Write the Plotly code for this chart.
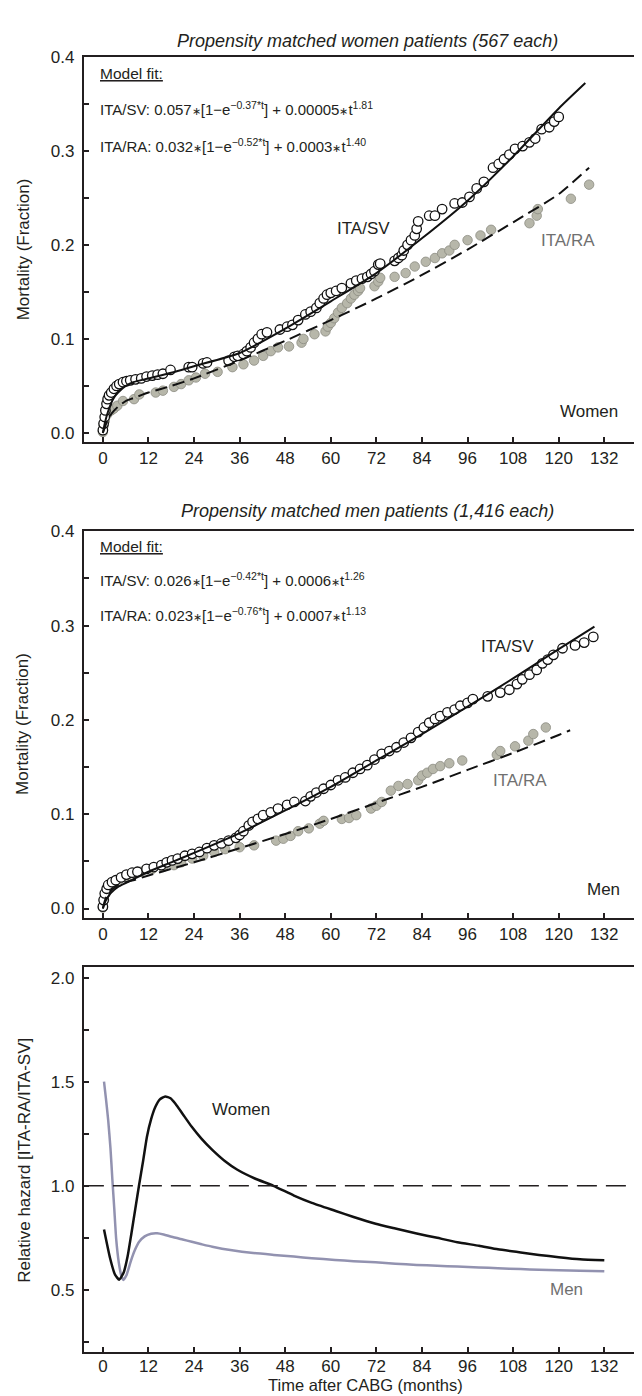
import plotly.graph_objects as go

W, H = 642, 1396

# ---------------- Panel 1: women ----------------
w_sv_t = [0, 0.19, 0.48, 0.67, 0.96, 1.25, 1.63, 2.2, 2.9, 3.6, 4.3, 5.3, 6.2, 7.2, 8.6, 10.1, 11.5, 13.0, 14.4, 15.8,
          17.8, 22.6, 23.5, 26.4, 27.4, 33.1, 34.6, 35.5, 37.0, 37.9, 38.9, 39.8, 40.8, 41.8, 43.2, 46.6, 48.5, 49.9,
          51.4, 53.3, 54.7, 56.2, 57.1, 58.1, 59.0, 60.0, 61.4, 62.9, 65.3, 66.7, 68.2, 69.6, 70.6, 71.5, 72.5, 73.0,
          76.8, 77.8, 78.7, 79.2, 80.2, 81.1, 82.1, 82.6, 83.0, 85.9, 87.4, 89.3, 92.6, 94.6, 96.5, 98.4, 100.3, 102.7,
          104.2, 105.6, 107.0, 108.5, 110.5, 112.3, 113.8, 115.5, 117.5, 118.8, 120.0]
w_sv_v = [0.003, 0.010, 0.017, 0.024, 0.031, 0.036, 0.040, 0.043, 0.047, 0.050, 0.052, 0.054, 0.055, 0.056, 0.057,
          0.058, 0.060, 0.061, 0.062, 0.063, 0.067, 0.070, 0.070, 0.074, 0.075, 0.077, 0.081, 0.082, 0.084, 0.087,
          0.091, 0.096, 0.100, 0.105, 0.107, 0.110, 0.113, 0.115, 0.120, 0.126, 0.129, 0.133, 0.138, 0.143, 0.147,
          0.149, 0.151, 0.154, 0.159, 0.162, 0.164, 0.166, 0.169, 0.172, 0.179, 0.180, 0.183, 0.186, 0.189, 0.194,
          0.200, 0.205, 0.210, 0.217, 0.225, 0.231, 0.231, 0.238, 0.244, 0.245, 0.251, 0.260, 0.267, 0.282, 0.286,
          0.291, 0.296, 0.302, 0.305, 0.309, 0.313, 0.323, 0.325, 0.331, 0.336]
w_ra_t = [0, 0.2, 0.5, 1.0, 1.4, 2.2, 2.9, 3.8, 5.3, 8.2, 9.6, 13.9, 15.8, 18.7, 20.6, 22.6, 24.5, 26.9, 30.2, 34.1,
          37.0, 39.8, 42.2, 44.2, 46.1, 49.0, 52.3, 52.8, 55.7, 58.6, 59.2, 60.0, 60.9, 61.9, 62.9, 64.3, 65.3, 66.2,
          67.2, 67.7, 71.5, 72.5, 73.0, 76.8, 79.7, 82.1, 85.0, 87.4, 89.3, 91.2, 92.6, 96.0, 99.4, 102.2, 112.3,
          114.2, 114.5, 123.2, 128.0]
w_ra_v = [0.001, 0.008, 0.013, 0.019, 0.022, 0.024, 0.026, 0.029, 0.034, 0.036, 0.041, 0.043, 0.045, 0.049, 0.052,
          0.056, 0.059, 0.063, 0.065, 0.070, 0.073, 0.077, 0.082, 0.087, 0.091, 0.092, 0.096, 0.100, 0.105, 0.108,
          0.113, 0.117, 0.122, 0.128, 0.133, 0.138, 0.143, 0.147, 0.151, 0.154, 0.156, 0.161, 0.165, 0.166, 0.170,
          0.177, 0.182, 0.186, 0.191, 0.194, 0.200, 0.205, 0.210, 0.216, 0.223, 0.231, 0.238, 0.249, 0.264]
w_fit_sv_t = [0, 0.5, 1, 2, 3, 4, 6, 8, 12, 18, 24, 36, 48, 60, 72, 84, 96, 108, 120, 127]
w_fit_sv_v = [0, 0.010, 0.018, 0.030, 0.038, 0.043, 0.050, 0.054, 0.058, 0.064, 0.071, 0.085, 0.111, 0.140, 0.170,
              0.207, 0.247, 0.294, 0.345, 0.372]
w_fit_ra_t = [0, 0.5, 1, 2, 3, 4, 6, 8, 12, 18, 24, 36, 48, 60, 72, 84, 96, 108, 120, 128]
w_fit_ra_v = [0, 0.006, 0.011, 0.019, 0.024, 0.028, 0.034, 0.037, 0.043, 0.050, 0.058, 0.077, 0.098, 0.120, 0.143,
              0.168, 0.195, 0.224, 0.254, 0.282]

# ---------------- Panel 2: men ----------------
m_sv_t = [0, 0.2, 0.5, 1.0, 1.4, 2.4, 3.4, 4.8, 6.2, 7.7, 9.1, 11.5, 13.4, 15.4, 16.8, 18.2, 19.7, 21.6, 23.5, 25.4,
          27.4, 29.3, 31.2, 33.1, 35.0, 36.0, 37.0, 38.4, 39.4, 40.8, 42.2, 44.2, 46.1, 48.5, 50.4, 53.3, 54.7, 56.2,
          58.1, 60.0, 61.9, 63.8, 65.8, 67.7, 69.6, 71.5, 73.4, 75.4, 77.3, 79.2, 81.1, 83.0, 84.5, 85.9, 87.4, 88.8,
          90.7, 92.6, 94.1, 96.0, 97.4, 101.3, 104.6, 107.0, 109.0, 110.4, 112.3, 114.2, 115.7, 117.1, 118.6, 121.0,
          124.3, 126.7, 129.1]
m_sv_v = [0.002, 0.009, 0.016, 0.021, 0.025, 0.028, 0.030, 0.033, 0.036, 0.038, 0.039, 0.042, 0.044, 0.046, 0.049,
          0.051, 0.053, 0.056, 0.058, 0.060, 0.064, 0.067, 0.069, 0.072, 0.075, 0.078, 0.082, 0.088, 0.092, 0.095,
          0.099, 0.102, 0.106, 0.110, 0.113, 0.114, 0.119, 0.123, 0.127, 0.131, 0.136, 0.139, 0.144, 0.148, 0.152,
          0.158, 0.164, 0.167, 0.171, 0.176, 0.181, 0.187, 0.192, 0.197, 0.201, 0.204, 0.208, 0.211, 0.215, 0.218,
          0.222, 0.225, 0.229, 0.232, 0.238, 0.243, 0.248, 0.253, 0.260, 0.264, 0.269, 0.276, 0.279, 0.282, 0.288]
m_ra_t = [0, 0.3, 0.7, 1.2, 1.9, 2.9, 4.3, 6.2, 8.2, 10.1, 13.0, 15.8, 18.7, 20.6, 23.5, 26.4, 29.3, 32.2, 36.0, 39.8,
          45.6, 47.5, 49.4, 51.4, 54.2, 57.1, 58.1, 62.9, 64.8, 66.7, 70.6, 72.0, 73.4, 75.8, 77.8, 80.2, 83.0, 84.0,
          85.4, 86.9, 88.8, 91.2, 94.6, 103.7, 104.6, 108.5, 112.0, 113.3, 116.6]
m_ra_v = [0.001, 0.009, 0.016, 0.021, 0.025, 0.028, 0.031, 0.033, 0.037, 0.039, 0.042, 0.044, 0.046, 0.049, 0.053,
          0.056, 0.060, 0.063, 0.065, 0.067, 0.072, 0.074, 0.077, 0.082, 0.085, 0.090, 0.093, 0.095, 0.096, 0.099,
          0.106, 0.109, 0.113, 0.125, 0.130, 0.132, 0.136, 0.141, 0.144, 0.148, 0.151, 0.154, 0.157, 0.163, 0.167,
          0.172, 0.178, 0.185, 0.192]
m_fit_sv_t = [0, 0.5, 1, 2, 3, 4, 6, 8, 12, 18, 24, 36, 48, 60, 72, 84, 96, 108, 120, 129.4]
m_fit_sv_v = [0, 0.006, 0.010, 0.016, 0.020, 0.023, 0.027, 0.031, 0.039, 0.049, 0.059, 0.080, 0.104, 0.129, 0.157,
              0.185, 0.214, 0.244, 0.275, 0.299]
m_fit_ra_t = [0, 0.5, 1, 2, 3, 4, 6, 8, 12, 18, 24, 36, 48, 60, 72, 84, 96, 108, 120, 123]
m_fit_ra_v = [0, 0.008, 0.013, 0.019, 0.022, 0.025, 0.028, 0.030, 0.035, 0.042, 0.049, 0.064, 0.079, 0.095, 0.112,
              0.129, 0.147, 0.165, 0.184, 0.189]

# ---------------- Panel 3: relative hazard ----------------
hz_w_t = [0.3, 1.9, 3.2, 4.3, 5.5, 6.5, 7.5, 8.5, 9.5, 10.6, 11.6, 12.7, 13.8, 15, 16.4, 17.8, 19.1, 21, 23.4, 26,
          28.8, 32, 35.3, 40, 44.9, 50.3, 55, 61.1, 66, 71.8, 77, 82.6, 88, 93.3, 99, 104, 110, 114.8, 120, 125.6, 132]
hz_w_v = [0.79, 0.652, 0.573, 0.549, 0.585, 0.66, 0.77, 0.885, 1.0, 1.12, 1.236, 1.32, 1.378, 1.415, 1.429, 1.42,
          1.394, 1.345, 1.283, 1.225, 1.172, 1.12, 1.078, 1.035, 1.0, 0.953, 0.918, 0.88, 0.85, 0.818, 0.795, 0.771,
          0.75, 0.729, 0.712, 0.695, 0.68, 0.668, 0.657, 0.647, 0.642]
hz_m_t = [0.3, 0.8, 1.4, 2.0, 2.5, 3.0, 3.5, 4.2, 4.9, 5.4, 6.2, 7.3, 8.4, 9.5, 11, 12.7, 14.3, 16, 18.1, 21, 23.4,
          26, 28.8, 34, 39.6, 45, 50.3, 55, 61.1, 66, 71.8, 77, 82.6, 88, 93.3, 99, 104, 110, 114.8, 120, 125.6, 132]
hz_m_v = [1.5, 1.42, 1.315, 1.18, 1.03, 0.89, 0.745, 0.63, 0.565, 0.548, 0.57, 0.635, 0.69, 0.73, 0.757, 0.77, 0.772,
          0.766, 0.755, 0.742, 0.731, 0.719, 0.707, 0.69, 0.677, 0.668, 0.66, 0.652, 0.644, 0.638, 0.633, 0.626,
          0.620, 0.616, 0.612, 0.608, 0.604, 0.600, 0.597, 0.594, 0.592, 0.589]
ref_hazard = 1.0

x_ticks = list(range(0, 133, 12))
mort_ticks = [0, 0.1, 0.2, 0.3, 0.4]
mort_labels = ["0.0", "0.1", "0.2", "0.3", "0.4"]
mort_minor = [0.05, 0.15, 0.25, 0.35]
hz_ticks = [0.5, 1.0, 1.5, 2.0]
hz_labels = ["0.5", "1.0", "1.5", "2.0"]
hz_minor = [0.25, 0.75, 1.25, 1.75]

FONT = "Liberation Sans, Arial, sans-serif"
INK = "#231f20"
GRAY_TXT = "#707070"
GRAY_FILL = "#b7b7aa"
GRAY_EDGE = "#8c8c82"
MEN_LINE = "#9292b0"
STAR = "<span style='font-size:11px'>∗</span>"

fig = go.Figure()


def add_mortality(xa, ya, sv_t, sv_v, ra_t, ra_v, fsv_t, fsv_v, fra_t, fra_v):
    fig.add_trace(go.Scatter(x=ra_t, y=ra_v, mode="markers", xaxis=xa, yaxis=ya,
                             marker=dict(size=9.5, color=GRAY_FILL, line=dict(color=GRAY_EDGE, width=0.8))))
    fig.add_trace(go.Scatter(x=sv_t, y=sv_v, mode="markers", xaxis=xa, yaxis=ya,
                             marker=dict(size=9.5, color="white", line=dict(color="#111", width=1.3))))
    fig.add_trace(go.Scatter(x=fsv_t, y=fsv_v, mode="lines", xaxis=xa, yaxis=ya,
                             line=dict(color="#111", width=2, shape="spline", smoothing=0.6)))
    fig.add_trace(go.Scatter(x=fra_t, y=fra_v, mode="lines", xaxis=xa, yaxis=ya,
                             line=dict(color="#111", width=2, dash="12px,6px", shape="spline", smoothing=0.6)))


add_mortality("x", "y", w_sv_t, w_sv_v, w_ra_t, w_ra_v, w_fit_sv_t, w_fit_sv_v, w_fit_ra_t, w_fit_ra_v)
add_mortality("x2", "y2", m_sv_t, m_sv_v, m_ra_t, m_ra_v, m_fit_sv_t, m_fit_sv_v, m_fit_ra_t, m_fit_ra_v)

fig.add_trace(go.Scatter(x=hz_m_t, y=hz_m_v, mode="lines", xaxis="x3", yaxis="y3",
                         line=dict(color=MEN_LINE, width=2.5, shape="spline", smoothing=0.5)))
fig.add_trace(go.Scatter(x=hz_w_t, y=hz_w_v, mode="lines", xaxis="x3", yaxis="y3",
                         line=dict(color="#111", width=2.5, shape="spline", smoothing=0.5)))


def fx(x):
    return x / W


def fy(y):
    return 1 - y / H


XD = [76 / W, 641 / W]
axis_common = dict(showgrid=False, zeroline=False, showline=True, linewidth=2, linecolor=INK,
                   ticks="inside", ticklen=5, tickwidth=1.5, tickcolor=INK,
                   tickfont=dict(family=FONT, size=17, color=INK))
minor_style = dict(ticks="inside", ticklen=5, tickwidth=1.5, tickcolor=INK, showgrid=False)

xcfg = dict(axis_common, range=[-5, 143.5], tickvals=x_ticks, mirror=True)
fig.update_layout(
    xaxis=dict(xcfg, domain=XD, anchor="y"),
    xaxis2=dict(xcfg, domain=XD, anchor="y2"),
    xaxis3=dict(xcfg, domain=XD, anchor="y3", ticklabelstandoff=-3),
    yaxis=dict(axis_common, domain=[fy(428), fy(40)], range=[-0.0095, 0.4], tickvals=mort_ticks,
               ticktext=mort_labels, mirror="ticks", anchor="x", ticklabelstandoff=4,
               minor=dict(minor_style, tickvals=mort_minor)),
    yaxis2=dict(axis_common, domain=[fy(907), fy(518)], range=[-0.0095, 0.4], tickvals=mort_ticks,
                ticktext=mort_labels, mirror="ticks", anchor="x2", ticklabelstandoff=4,
                minor=dict(minor_style, tickvals=mort_minor)),
    yaxis3=dict(axis_common, domain=[fy(1345), fy(957)], range=[0.2, 2.05], tickvals=hz_ticks,
                ticktext=hz_labels, mirror="ticks", anchor="x3", ticklabelstandoff=4,
                minor=dict(minor_style, tickvals=hz_minor)),
)

fig.add_shape(type="line", xref="x3 domain", yref="y3", x0=0, x1=1, y0=ref_hazard, y1=ref_hazard,
              line=dict(color=INK, width=1.5, dash="20px,9px"))

ann = []


def text(x, y, s, size=17, color=INK, xanchor="center", angle=0, italic=False, yanchor="middle"):
    ann.append(dict(x=fx(x), y=fy(y), xref="paper", yref="paper", text=s, showarrow=False,
                    xanchor=xanchor, yanchor=yanchor, textangle=angle, borderpad=0,
                    font=dict(family=FONT, size=size, color=color,
                              style="italic" if italic else "normal")))


text(360, 24, "Propensity matched women patients (567 each)", size=18, italic=True)
text(360, 498, "Propensity matched men patients (1,416 each)", size=18, italic=True)

text(91, 57, "<u>Model fit:</u>", size=15.5, xanchor="left")
text(91, 92, f"ITA/SV: 0.057{STAR}[1−e<sup>−0.37*t</sup>] + 0.00005{STAR}t<sup>1.81</sup>", size=15, xanchor="left")
text(91, 129, f"ITA/RA: 0.032{STAR}[1−e<sup>−0.52*t</sup>] + 0.0003{STAR}t<sup>1.40</sup>", size=15, xanchor="left")
text(356, 213, "ITA/SV")
text(561, 225, "ITA/RA", color=GRAY_TXT)
text(582, 397, "Women")

text(91, 533, "<u>Model fit:</u>", size=15.5, xanchor="left")
text(91, 567, f"ITA/SV: 0.026{STAR}[1−e<sup>−0.42*t</sup>] + 0.0006{STAR}t<sup>1.26</sup>", size=15, xanchor="left")
text(91, 602, f"ITA/RA: 0.023{STAR}[1−e<sup>−0.76*t</sup>] + 0.0007{STAR}t<sup>1.13</sup>", size=15, xanchor="left")
text(500, 634, "ITA/SV")
text(513, 769, "ITA/RA", color=GRAY_TXT)
text(596, 879, "Men")

text(233, 1100, "Women")
text(559, 1282, "Men", color=GRAY_TXT)

text(15, 234, "Mortality (Fraction)", size=17, angle=-90)
text(15, 712, "Mortality (Fraction)", size=17, angle=-90)
text(17, 1151, "Relative hazard [ITA-RA/ITA-SV]", size=17, angle=-90)
text(358, 1378, "Time after CABG (months)", size=16.5)

fig.update_layout(annotations=ann, width=W, height=H, margin=dict(l=0, r=0, t=0, b=0),
                  paper_bgcolor="white", plot_bgcolor="white", showlegend=False,
                  font=dict(family=FONT, color=INK))

fig.write_html("out.html")
